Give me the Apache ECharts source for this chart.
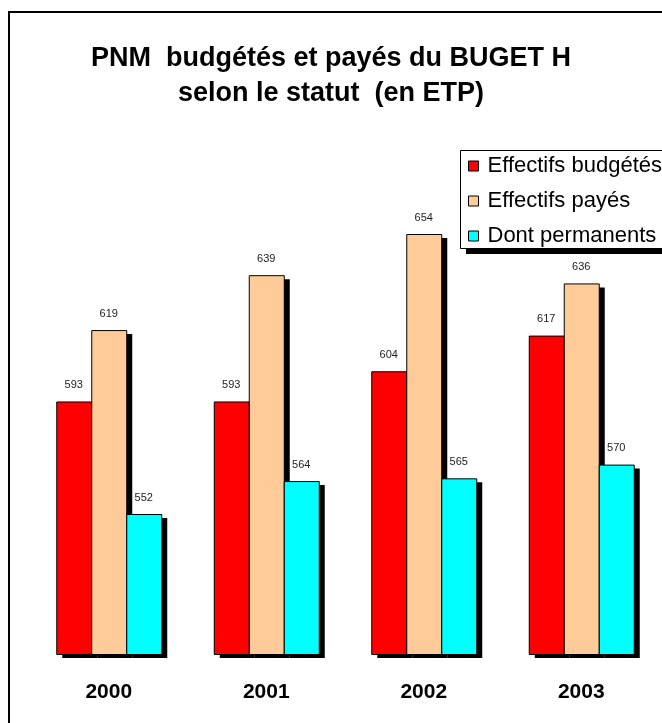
<!DOCTYPE html>
<html>
<head>
<meta charset="utf-8">
<title>PNM budgétés et payés du BUGET H</title>
<script src="https://cdn.jsdelivr.net/npm/echarts@6/dist/echarts.min.js"></script>
<style>
  html, body { margin: 0; padding: 0; background: #fff; }
  #chart { width: 662px; height: 723px; }
</style>
</head>
<body>
<div id="chart"></div>
<script>
// Years on the category axis
const years = ['2000', '2001', '2002', '2003'];

// Staff counts (full-time equivalents) per series
const budgetes = [593, 593, 604, 617];
const payes = [619, 639, 654, 636];
const permanents = [552, 564, 565, 570];

const seriesNames = ['Effectifs budgétés', 'Effectifs payés', 'Dont permanents'];
const seriesColors = ['#FF0000', '#FFCC99', '#00FFFF'];

const FONT = '"Liberation Sans", Arial, sans-serif';
const Y_MIN = 501;
const Y_MAX = 701;
const BAR_W = 35;        // width of one bar in pixels
const SHADOW_DX = 6;     // drop shadow offset
const SHADOW_DY = 4;

// Each bar is drawn as a solid black offset block, then the coloured bar with its outline,
// then the value written above it.
function makeBarSeries(slot, name, values, color) {
  return {
    name: name,
    type: 'custom',
    itemStyle: { color: color },
    encode: { x: 0, y: 1 },
    data: values.map(function (v, i) { return [i, v]; }),
    renderItem: function (params, api) {
      const cat = api.value(0);
      const val = api.value(1);
      const top = api.coord([cat, val]);
      const base = api.coord([cat, Y_MIN]);
      const x = top[0] + (slot - 1.5) * BAR_W;
      const y = top[1];
      const h = base[1] - top[1];
      return {
        type: 'group',
        children: [
          {
            type: 'rect',
            shape: { x: x + SHADOW_DX, y: y + SHADOW_DY, width: BAR_W, height: h },
            style: { fill: '#000' }
          },
          {
            type: 'rect',
            shape: { x: x + 0.5, y: y + 0.5, width: BAR_W, height: h },
            style: { fill: color, stroke: '#000', lineWidth: 1 }
          },
          {
            type: 'text',
            x: x + BAR_W / 2,
            y: y - 11,
            style: {
              text: String(val),
              align: 'center',
              verticalAlign: 'bottom',
              fontFamily: FONT,
              fontSize: 11,
              fill: '#222'
            }
          }
        ]
      };
    }
  };
}

const chart = echarts.init(document.getElementById('chart'), null, { renderer: 'canvas' });

chart.setOption({
  animation: false,
  backgroundColor: '#fff',
  title: {
    text: 'PNM  budgétés et payés du BUGET H\nselon le statut  (en ETP)',
    left: 'center',
    top: 36,
    textStyle: {
      fontFamily: FONT,
      fontSize: 27,
      fontWeight: 'bold',
      lineHeight: 35,
      color: '#000'
    }
  },
  legend: {
    orient: 'vertical',
    left: 460,
    top: 152,
    icon: 'rect',
    itemWidth: 10,
    itemHeight: 10,
    itemGap: 13,
    padding: [3, 12, 3, 8],
    selectedMode: false,
    itemStyle: {
      borderColor: '#000',
      borderWidth: 1
    },
    textStyle: {
      fontFamily: FONT,
      fontSize: 22,
      lineHeight: 22,
      color: '#000',
      padding: [0, 0, 0, 4]
    },
    data: seriesNames
  },
  grid: {
    left: 30,
    width: 630,
    top: 105,
    bottom: 69,
    containLabel: false
  },
  xAxis: {
    type: 'category',
    data: years,
    axisLine: { show: false },
    axisTick: { show: false },
    axisLabel: {
      margin: 28,
      fontFamily: FONT,
      fontSize: 21,
      fontWeight: 'bold',
      color: '#000'
    },
    splitLine: { show: false }
  },
  yAxis: {
    type: 'value',
    min: Y_MIN,
    max: Y_MAX,
    show: false,
    splitLine: { show: false }
  },
  graphic: [
    {
      // outer frame of the chart area
      type: 'rect',
      z: -10,
      silent: true,
      shape: { x: 9, y: 12, width: 700, height: 800 },
      style: { fill: 'none', stroke: '#000', lineWidth: 2 }
    },
    {
      // legend box drop shadow
      type: 'rect',
      z: -5,
      silent: true,
      shape: { x: 466, y: 156, width: 260, height: 98 },
      style: { fill: '#000' }
    },
    {
      // legend box
      type: 'rect',
      z: -4,
      silent: true,
      shape: { x: 460.5, y: 150.5, width: 260, height: 98 },
      style: { fill: '#fff', stroke: '#000', lineWidth: 1 }
    }
  ],
  series: [
    makeBarSeries(0, seriesNames[0], budgetes, seriesColors[0]),
    makeBarSeries(1, seriesNames[1], payes, seriesColors[1]),
    makeBarSeries(2, seriesNames[2], permanents, seriesColors[2])
  ]
});
</script>
</body>
</html>
